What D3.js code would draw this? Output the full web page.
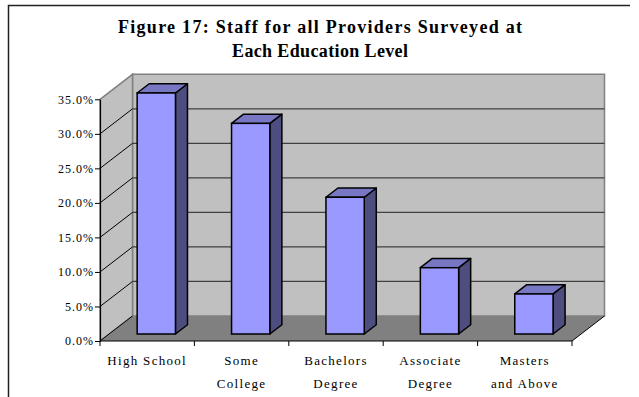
<!DOCTYPE html>
<html><head><meta charset="utf-8">
<script src="https://cdn.jsdelivr.net/npm/d3@7"></script>
<style>body{margin:0;background:#fff}svg{display:block}</style>
</head><body>
<script>
const categories = [["High School"], ["Some", "College"], ["Bachelors", "Degree"], ["Associate", "Degree"], ["Masters", "and Above"]];
const values = [34.9, 30.5, 19.8, 9.6, 5.8];
const tickValues = [0, 5, 10, 15, 20, 25, 30, 35];
const tickLabels = ["0.0%", "5.0%", "10.0%", "15.0%", "20.0%", "25.0%", "30.0%", "35.0%"];
const titleLines = ["Figure 17: Staff for all Providers Surveyed at", "Each Education Level"];
const titleWidths = [404, 176];

const W = 639, H = 397;
const svg = d3.select("body").append("svg").attr("width", W).attr("height", H);
const serif = "'Liberation Serif','Times New Roman',serif";

// frame
svg.append("path").attr("d", "M8.5,397 L8.5,5.5 L630,5.5").attr("fill", "none").attr("stroke", "#222").attr("stroke-width", 1.5);

// title
svg.selectAll("text.title").data(titleLines).join("text")
  .attr("x", 320).attr("y", (d, i) => 33 + i * 24)
  .attr("text-anchor", "middle").attr("font-family", serif)
  .attr("font-weight", "bold").attr("font-size", 18).attr("fill", "#000")
  .attr("textLength", (d, i) => titleWidths[i]).attr("lengthAdjust", "spacing")
  .text(d => d);

const keys = categories.map(c => c.join(" "));
const x = d3.scaleBand().domain(keys).range([100, 572]);
const y = d3.scaleLinear().domain([0, 35]).range([341, 99.3]);
const DX = 32.5, DY = -25;
const yMax = 35;

const g = svg.append("g");
const pt = (px, py) => px + "," + py;
// back wall
g.append("polygon").attr("points", [pt(100 + DX, y(yMax) + DY), pt(572 + DX, y(yMax) + DY), pt(572 + DX, y(0) + DY), pt(100 + DX, y(0) + DY)].join(" "))
  .attr("fill", "#c0c0c0").attr("stroke", "#808080").attr("stroke-width", 1.5);
// side wall
g.append("polygon").attr("points", [pt(100, y(yMax)), pt(100 + DX, y(yMax) + DY), pt(100 + DX, y(0) + DY), pt(100, y(0))].join(" "))
  .attr("fill", "#c0c0c0").attr("stroke", "#808080").attr("stroke-width", 1.5);
// floor
g.append("polygon").attr("points", [pt(100, y(0)), pt(100 + DX, y(0) + DY), pt(572 + DX, y(0) + DY), pt(572, y(0))].join(" "))
  .attr("fill", "#808080");

// gridlines
const gv = tickValues.filter(v => v > 0 && v < yMax);
g.selectAll("line.gback").data(gv).join("line")
  .attr("x1", 100 + DX).attr("x2", 572 + DX).attr("y1", d => y(d) + DY).attr("y2", d => y(d) + DY)
  .attr("stroke", "#404040").attr("stroke-width", 1.2);
g.selectAll("line.gside").data(gv).join("line")
  .attr("x1", 100).attr("x2", 100 + DX).attr("y1", d => y(d)).attr("y2", d => y(d) + DY)
  .attr("stroke", "#000").attr("stroke-width", 1);
g.append("line").attr("x1", 572).attr("y1", y(0)).attr("x2", 572 + DX).attr("y2", y(0) + DY).attr("stroke", "#000").attr("stroke-width", 1);
g.append("line").attr("x1", 100).attr("y1", y(0)).attr("x2", 100 + DX).attr("y2", y(0) + DY).attr("stroke", "#000").attr("stroke-width", 1);

// bars
const f0 = 0.28, fd = 0.37;
const bw = 38.3;
const bars = g.selectAll("g.bar").data(values).join("g");
bars.each(function (v, i) {
  const s = d3.select(this);
  const xl = x(keys[i]) + (x.bandwidth() - bw) / 2 + DX * f0;
  const xr = xl + bw;
  const yb = y(0) + DY * f0;
  const yt = y(v) + DY * f0;
  const ddx = DX * fd, ddy = DY * fd;
  s.append("polygon").attr("points", [pt(xr, yb), pt(xr + ddx, yb + ddy), pt(xr + ddx, yt + ddy), pt(xr, yt)].join(" "))
    .attr("fill", "#4d4d80").attr("stroke", "#000").attr("stroke-width", 1.5).attr("stroke-linejoin", "round");
  s.append("polygon").attr("points", [pt(xl, yt), pt(xr, yt), pt(xr + ddx, yt + ddy), pt(xl + ddx, yt + ddy)].join(" "))
    .attr("fill", "#7777c4").attr("stroke", "#000").attr("stroke-width", 1.5).attr("stroke-linejoin", "round");
  s.append("rect").attr("x", xl).attr("y", yt).attr("width", bw).attr("height", yb - yt)
    .attr("fill", "#9999ff").attr("stroke", "#000").attr("stroke-width", 1.5);
});

// axes
const yAxis = d3.axisLeft(y).tickValues(tickValues).tickFormat((d, i) => tickLabels[i]).tickSize(5).tickSizeOuter(0);
const ya = svg.append("g").attr("transform", "translate(100,0)").call(yAxis);
ya.select(".domain").attr("stroke", "#000").attr("stroke-width", 1.2);
ya.selectAll(".tick line").attr("stroke", "#000");
ya.selectAll(".tick text").attr("font-family", serif).attr("font-size", 12).attr("letter-spacing", 1).attr("fill", "#000").attr("x", -6);

const xa = svg.append("g");
xa.append("line").attr("x1", 100).attr("x2", 572).attr("y1", y(0)).attr("y2", y(0)).attr("stroke", "#000").attr("stroke-width", 1.2);
const bounds = keys.map(k => x(k)).concat([572]);
xa.selectAll("line.t").data(bounds).join("line")
  .attr("x1", d => d).attr("x2", d => d).attr("y1", y(0)).attr("y2", y(0) + 5).attr("stroke", "#000");
const labs = xa.selectAll("text.cat").data(categories).join("text")
  .attr("text-anchor", "middle").attr("font-family", serif).attr("font-size", 13)
  .attr("letter-spacing", 1.3).attr("fill", "#000");
labs.each(function (c, i) {
  const t = d3.select(this);
  c.forEach((line, j) => {
    t.append("tspan").attr("x", x(keys[i]) + x.bandwidth() / 2).attr("y", 365 + j * 23).text(line);
  });
});
</script>
</body></html>
